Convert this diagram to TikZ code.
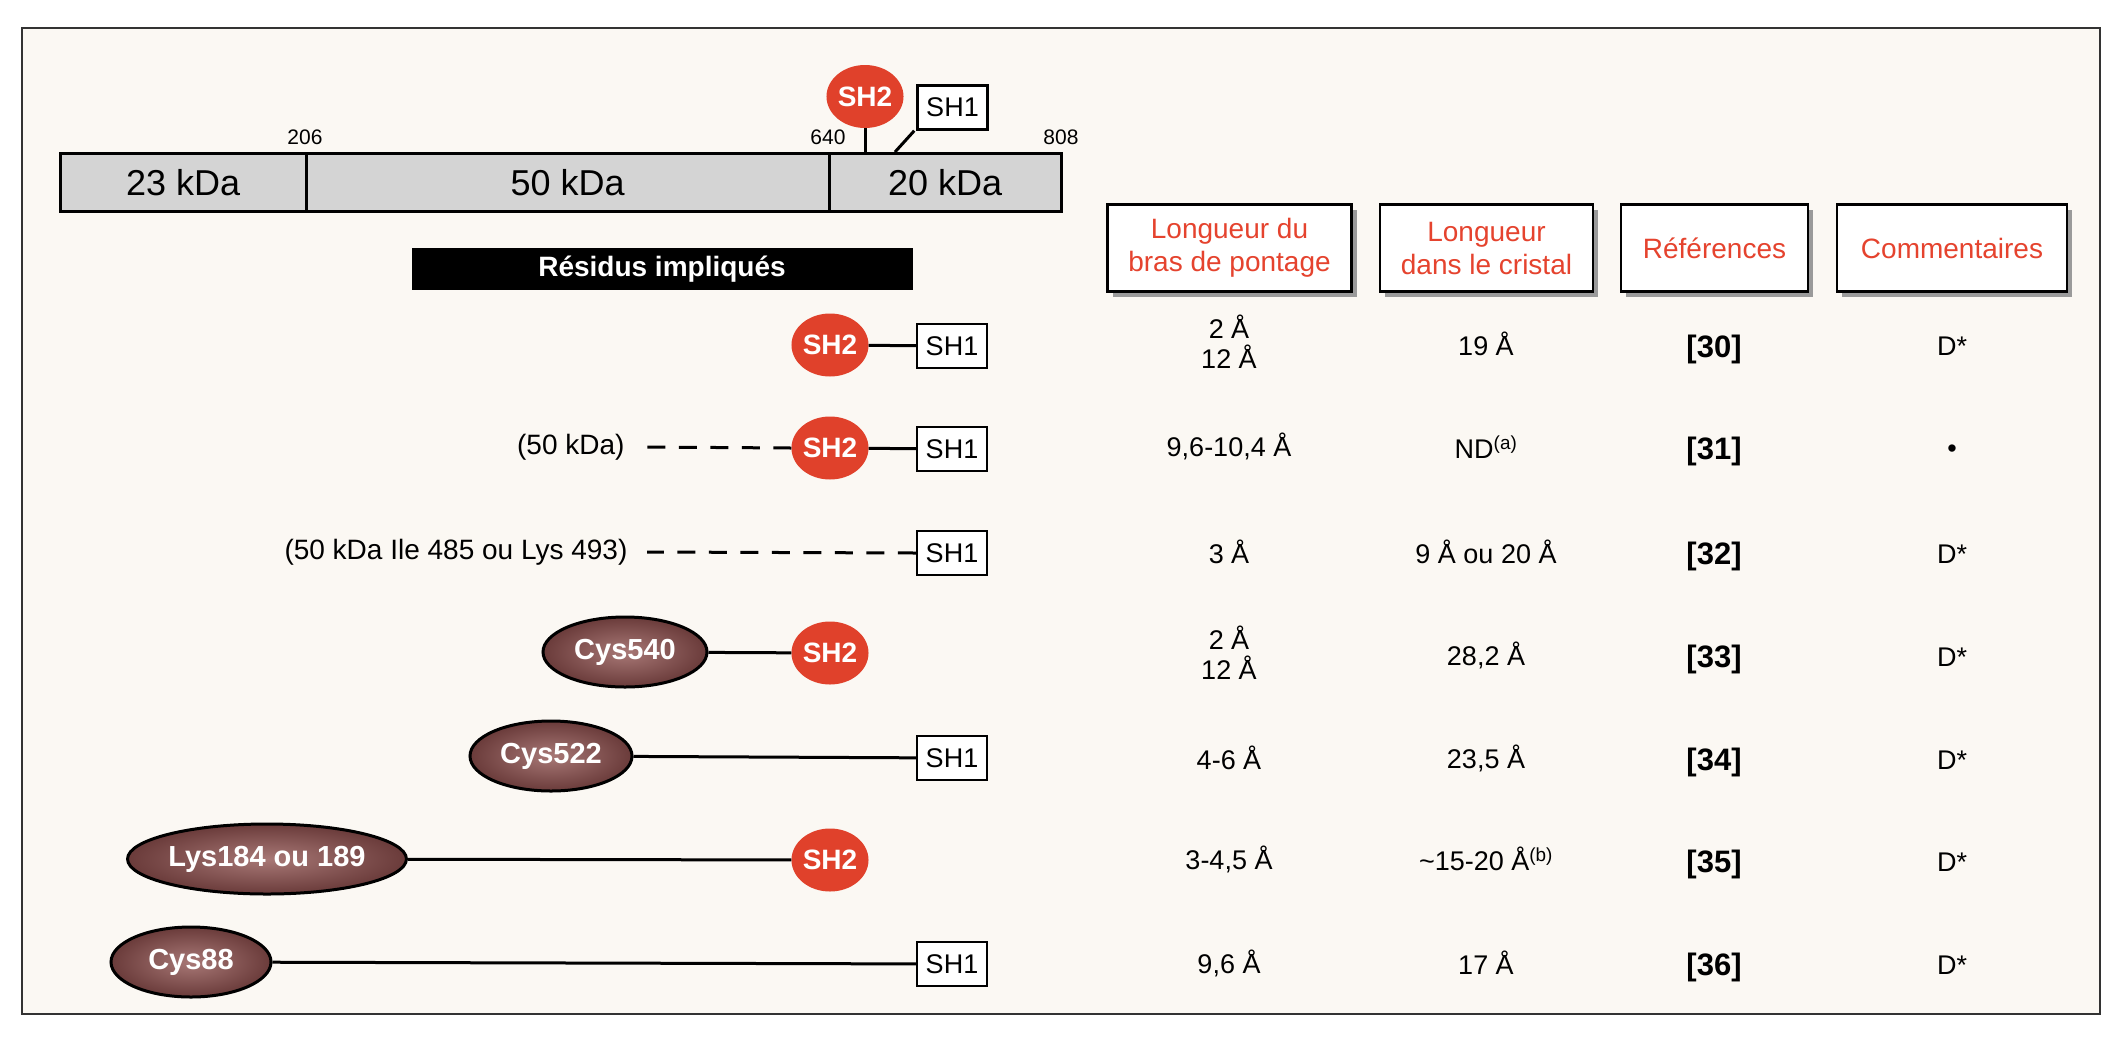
\documentclass[tikz,border=0pt]{standalone}
\usepackage{fontspec}
\setmainfont{Liberation Sans}
\usetikzlibrary{shapes.geometric,shadows}
\newcommand{\myfs}[2]{\fontsize{#1}{#2}\selectfont}
\definecolor{shred}{HTML}{E0412B}
\definecolor{hdrred}{HTML}{E5432E}
\definecolor{resin}{HTML}{A87876}
\definecolor{resout}{HTML}{6A3B3A}
\definecolor{bargray}{HTML}{D4D4D4}
\definecolor{bgcream}{HTML}{FBF8F3}
\definecolor{shadowgray}{HTML}{9A9A9A}
\definecolor{framegray}{HTML}{333333}
\begin{document}
\begin{tikzpicture}[x=1pt,y=-1pt,
  sh2/.style={ellipse, fill=shred, minimum width=73, minimum height=63, inner sep=0pt, text=white, font=\myfs{28}{32}\bfseries},
  sh1/.style={draw, line width=2.5, fill=white, minimum width=70, minimum height=44, inner sep=0pt, font=\myfs{27}{30}},
  res/.style={ellipse, draw, line width=3, inner color=resin, outer color=resout, minimum height=70, inner sep=0pt, text=white, font=\myfs{29}{32}\bfseries},
  seg/.style={draw, line width=2.5, fill=bargray, minimum height=58, inner sep=0pt, anchor=north west, font=\myfs{36}{40}},
  num/.style={font=\myfs{21}{24}},
  hdr/.style={draw, line width=2.5, fill=white, text=hdrred, align=center, minimum height=87, inner sep=0pt, font=\myfs{28}{33}, drop shadow={shadow xshift=5pt, shadow yshift=-5pt, fill=shadowgray, opacity=1}},
  val/.style={font=\myfs{27}{30}, align=center},
  refn/.style={font=\myfs{31}{34}\bfseries},
  lbl/.style={font=\myfs{28}{32}, anchor=east},
  link/.style={line width=3},
  dlink/.style={line width=3, dash pattern=on 18pt off 13.5pt},
]
\useasboundingbox (0,0) rectangle (2123,1045);
\draw[line width=2.5, draw=framegray, fill=bgcream] (22,28) rectangle (2100,1014);

% protein bar
\node[seg, minimum width=246] (s1) at (59,152) {23 kDa};
\node[seg, minimum width=523] (s2) at (305,152) {50 kDa};
\node[seg, minimum width=232] (s3) at (828,152) {20 kDa};
\node[num] (n206) at (305,137) {206};
\node[num] (n640) at (828,137) {640};
\node[num] (n808) at (1061,137) {808};
\node[sh2] (tsh2) at (865,96.5) {SH2};
\node[sh1] (tsh1) at (952.5,107.5) {SH1};
\coordinate (bj) at (895,152);
\draw[link] (tsh2.south) -- (tsh2.south |- s3.north);
\draw[link] ([xshift=-2pt]tsh1.south west) -- (bj);

\node[fill=black, minimum width=501, minimum height=42, inner sep=0pt, text=white, font=\myfs{28}{32}\bfseries] (resid) at (662,269) {Résidus impliqués};

% headers
\node[hdr, minimum width=244] (h1) at (1229.5,248) {Longueur du\\bras de pontage};
\node[hdr, minimum width=213] (h2) at (1486.5,248) {Longueur\\dans le cristal};
\node[hdr, minimum width=187] (h3) at (1714.5,248) {Références};
\node[hdr, minimum width=230] (h4) at (1952,248) {Commentaires};

% row 1
\node[sh2] (a2) at (830,345) {SH2};
\node[sh1] (a1) at (952,346) {SH1};
\draw[link] (a2) -- (a1);
% row 2
\node[lbl] (t2) at (628,447) {(50 kDa)};
\node[sh2] (b2) at (830,448) {SH2};
\node[sh1] (b1) at (952,449) {SH1};
\draw[link] (b2) -- (b1);
\draw[dlink] (b2.west) -- ([xshift=15pt]t2.east);
% row 3
\node[lbl] (t3) at (631,552) {(50 kDa Ile 485 ou Lys 493)};
\node[sh1] (c1) at (952,553) {SH1};
\draw[dlink] (c1.west) -- ([xshift=16pt]t3.east);
% row 4
\node[res, minimum width=164] (d0) at (625,652) {Cys540};
\node[sh2] (d2) at (830,653) {SH2};
\draw[link] (d0) -- (d2);
% row 5
\node[res, minimum width=162] (e0) at (551,756) {Cys522};
\node[sh1] (e1) at (952,758) {SH1};
\draw[link] (e0) -- (e1);
% row 6
\node[res, minimum width=228] (f0) at (267,859) {Lys184 ou 189};
\node[sh2] (f2) at (830,860) {SH2};
\draw[link] (f0) -- (f2);
% row 7
\node[res, minimum width=160] (g0) at (191,962) {Cys88};
\node[sh1] (g1) at (952,964) {SH1};
\draw[link] (g0) -- (g1);

% values
\node[val] (v11) at (1229,342) {2 Å\\12 Å};
\node[val] (v12) at (1486,344) {19 Å};
\node[refn] (v13) at (1714,349) {[30]};
\node[val] (v14) at (1952,346) {D*};

\node[val] (v21) at (1229,446) {9,6-10,4 Å};
\node[val] (v22) at (1486,447) {ND\textsuperscript{(a)}};
\node[refn] (v23) at (1714,451) {[31]};
\node[val] (v24) at (1952,451) {\textbullet};

\node[val] (v31) at (1229,552) {3 Å};
\node[val] (v32) at (1486,552) {9 Å ou 20 Å};
\node[refn] (v33) at (1714,556) {[32]};
\node[val] (v34) at (1952,554) {D*};

\node[val] (v41) at (1229,653) {2 Å\\12 Å};
\node[val] (v42) at (1486,655) {28,2 Å};
\node[refn] (v43) at (1714,659) {[33]};
\node[val] (v44) at (1952,657) {D*};

\node[val] (v51) at (1229,758) {4-6 Å};
\node[val] (v52) at (1486,758) {23,5 Å};
\node[refn] (v53) at (1714,762) {[34]};
\node[val] (v54) at (1952,760) {D*};

\node[val] (v61) at (1229,859) {3-4,5 Å};
\node[val] (v62) at (1486,859) {\textasciitilde15-20 Å\textsuperscript{(b)}};
\node[refn] (v63) at (1714,864) {[35]};
\node[val] (v64) at (1952,862) {D*};

\node[val] (v71) at (1229,963) {9,6 Å};
\node[val] (v72) at (1486,963) {17 Å};
\node[refn] (v73) at (1714,967) {[36]};
\node[val] (v74) at (1952,965) {D*};
\end{tikzpicture}
\end{document}
